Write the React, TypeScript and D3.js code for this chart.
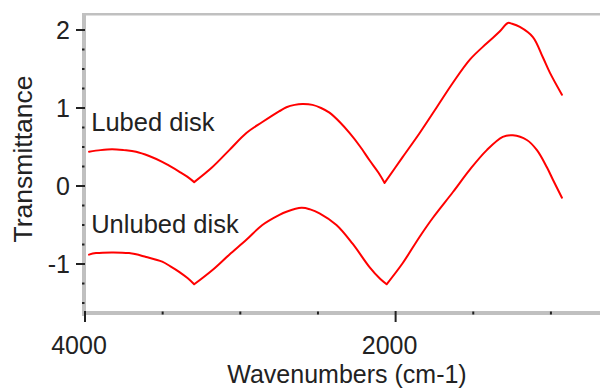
import React, { useEffect, useRef } from "react";
import * as d3 from "d3";

// wavenumbers (cm-1) and transmittance
const lubedWave = [3974, 3900, 3826, 3750, 3671, 3587, 3503, 3458, 3394, 3342, 3297, 3181, 3071, 2961, 2858, 2748, 2703, 2650, 2600, 2535, 2480, 2426, 2360, 2297, 2230, 2168, 2110, 2071, 1955, 1845, 1735, 1632, 1522, 1413, 1330, 1277, 1250, 1200, 1116, 1052, 1006, 929];
const lubedT = [0.44, 0.46, 0.47, 0.46, 0.44, 0.385, 0.31, 0.26, 0.185, 0.12, 0.05, 0.24, 0.46, 0.68, 0.82, 0.96, 1.01, 1.04, 1.05, 1.04, 1.0, 0.94, 0.82, 0.68, 0.51, 0.33, 0.17, 0.04, 0.37, 0.68, 1.01, 1.32, 1.62, 1.83, 1.98, 2.09, 2.08, 2.04, 1.91, 1.65, 1.45, 1.17];

const unlubedWave = [3974, 3929, 3716, 3606, 3503, 3450, 3394, 3340, 3297, 3181, 3071, 2961, 2858, 2748, 2703, 2606, 2550, 2490, 2381, 2277, 2168, 2100, 2058, 1955, 1845, 1761, 1632, 1522, 1413, 1310, 1245, 1155, 1090, 1026, 987, 929];
const unlubedT = [-0.88, -0.86, -0.86, -0.91, -0.97, -1.03, -1.1, -1.18, -1.26, -1.08, -0.88, -0.69, -0.5, -0.37, -0.33, -0.28, -0.3, -0.35, -0.5, -0.74, -1.04, -1.19, -1.26, -0.99, -0.65, -0.41, -0.08, 0.21, 0.46, 0.63, 0.65, 0.59, 0.46, 0.24, 0.08, -0.15];

const yMajor = [-1, 0, 1, 2];
const yMinor = [-1.5, -1.25, -0.75, -0.5, -0.25, 0.25, 0.5, 0.75, 1.25, 1.5, 1.75];
const xMajor = [4000, 2000];
const xMinor = [3500, 3000, 2500, 1500, 1000];

const labels = [
  { text: "Lubed disk", wave: 3960, t: 0.7 },
  { text: "Unlubed disk", wave: 3960, t: -0.6 },
];

// split a spectrum at its sharp minima so the smoothing keeps the V shape
function splitAtMinima(pts) {
  const segs = [];
  let cur = [pts[0]];
  for (let i = 1; i < pts.length; i++) {
    cur.push(pts[i]);
    const isMin = i < pts.length - 1 && pts[i][1] < pts[i - 1][1] && pts[i][1] < pts[i + 1][1];
    if (isMin) {
      segs.push(cur);
      cur = [pts[i]];
    }
  }
  segs.push(cur);
  return segs;
}

function Chart() {
  const ref = useRef(null);

  useEffect(() => {
    const width = 600;
    const height = 388;
    const marginTop = 14;
    const marginLeft = 85;
    const marginBottom = 75;
    const font = "'Liberation Sans', Arial, sans-serif";
    const ink = "#222";
    const grey = "#c0c0c0";

    d3.select(ref.current).selectAll("*").remove();

    const x = d3.scaleLinear([4000, 684], [marginLeft, width]);
    const y = d3.scaleLinear([-1.628, 2.205], [height - marginBottom, marginTop]);

    const svg = d3.select(ref.current)
      .append("svg")
      .attr("width", width)
      .attr("height", height)
      .attr("viewBox", [0, 0, width, height])
      .attr("style", "position:absolute;left:0;top:0;background:#fff");

    const bottom = height - marginBottom;

    // grey frame
    svg.append("rect")
      .attr("x", marginLeft - 3).attr("y", marginTop - 1)
      .attr("width", width).attr("height", 2.5)
      .attr("fill", grey);
    svg.append("rect")
      .attr("x", marginLeft - 3).attr("y", marginTop - 1)
      .attr("width", 4).attr("height", bottom - marginTop + 4)
      .attr("fill", grey);
    svg.append("rect")
      .attr("x", marginLeft - 3).attr("y", bottom - 2)
      .attr("width", width).attr("height", 4)
      .attr("fill", grey);

    // y axis
    const yAxis = svg.append("g").attr("transform", `translate(${marginLeft},0)`);
    yAxis.selectAll(".major")
      .data(yMajor)
      .join("line")
      .attr("x1", -9).attr("x2", 0)
      .attr("y1", d => y(d)).attr("y2", d => y(d))
      .attr("stroke", ink).attr("stroke-width", 2);
    yAxis.selectAll(".minor")
      .data(yMinor)
      .join("rect")
      .attr("x", -3).attr("y", d => y(d) - 1)
      .attr("width", 2.5).attr("height", 2)
      .attr("fill", ink);
    yAxis.selectAll("text")
      .data(yMajor)
      .join("text")
      .attr("x", -15)
      .attr("y", d => y(d))
      .attr("dy", "0.36em")
      .attr("text-anchor", "end")
      .attr("font-family", font)
      .attr("font-size", 25)
      .attr("fill", ink)
      .text(d => d);

    // x axis
    const xAxis = svg.append("g").attr("transform", `translate(0,${bottom})`);
    xAxis.selectAll(".major")
      .data(xMajor)
      .join("line")
      .attr("x1", d => x(d)).attr("x2", d => x(d))
      .attr("y1", -2).attr("y2", 9)
      .attr("stroke", ink).attr("stroke-width", 2);
    xAxis.selectAll(".minor")
      .data(xMinor)
      .join("rect")
      .attr("x", d => x(d) - 1).attr("y", -1.5)
      .attr("width", 2).attr("height", 3)
      .attr("fill", ink);
    xAxis.selectAll("text")
      .data(xMajor)
      .join("text")
      .attr("x", d => x(d) - 6)
      .attr("y", 41)
      .attr("text-anchor", "middle")
      .attr("font-family", font)
      .attr("font-size", 25)
      .attr("fill", ink)
      .text(d => d);

    svg.append("text")
      .attr("x", 347)
      .attr("y", 383)
      .attr("text-anchor", "middle")
      .attr("font-family", font)
      .attr("font-size", 25)
      .attr("fill", ink)
      .text("Wavenumbers (cm-1)");

    svg.append("text")
      .attr("transform", "translate(32,159) rotate(-90)")
      .attr("text-anchor", "middle")
      .attr("font-family", font)
      .attr("font-size", 26.5)
      .attr("fill", ink)
      .text("Transmittance");

    // spectra
    const line = d3.line()
      .x(d => x(d[0]))
      .y(d => y(d[1]))
      .curve(d3.curveCatmullRom.alpha(0.5));

    const series = [
      d3.zip(lubedWave, lubedT),
      d3.zip(unlubedWave, unlubedT),
    ];

    svg.selectAll(".spectrum")
      .data(series)
      .join("path")
      .attr("fill", "none")
      .attr("stroke", "#ff0000")
      .attr("stroke-width", 2)
      .attr("stroke-linejoin", "round")
      .attr("stroke-linecap", "round")
      .attr("d", d => splitAtMinima(d).map(s => line(s)).join(""));

    svg.selectAll(".label")
      .data(labels)
      .join("text")
      .attr("x", d => x(d.wave))
      .attr("y", d => y(d.t))
      .attr("font-family", font)
      .attr("font-size", 25.5)
      .attr("fill", ink)
      .text(d => d.text);
  }, []);

  return <div ref={ref}></div>;
}

export default function App() {
  return <Chart />;
}
